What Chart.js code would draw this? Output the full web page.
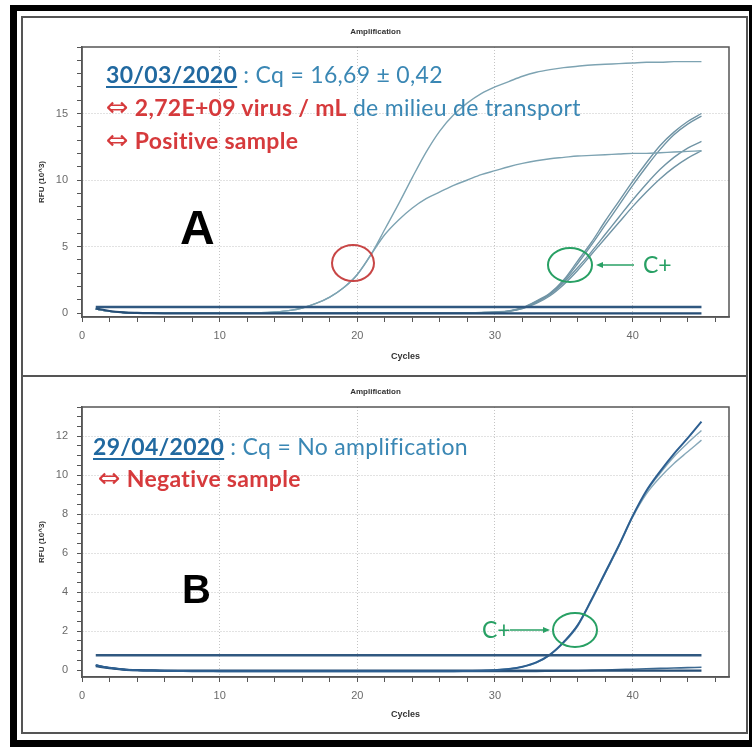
<!DOCTYPE html>
<html>
<head>
<meta charset="utf-8">
<script src="https://cdn.jsdelivr.net/npm/chart.js@4"></script>
<style>
  html, body { margin: 0; padding: 0; background: #fff; }
  body { width: 752px; height: 747px; position: relative; overflow: hidden; }
  .frame { position: absolute; left: 10px; top: 5px; width: 742px; height: 742px; box-sizing: border-box;
           border-style: solid; border-color: #000; border-width: 6px 3px 7px 7px; }
  .panel { position: absolute; left: 21px; width: 727px; box-sizing: border-box; border: 2px solid #555; }
  canvas { position: absolute; }
  .t { position: absolute; font-family: Lato, "Open Sans", sans-serif; font-size: 23px; line-height: 23px; white-space: nowrap; letter-spacing: 0.3px; }
  .date { color: rgb(33,105,160); font-weight: 700; text-decoration: underline; text-decoration-thickness: 2px; text-underline-offset: 3px; }
  .blue { color: rgb(58,135,180); }
  .red { color: rgb(214,58,60); font-weight: 700; }
  .sym { font-family: "DejaVu Sans", sans-serif; font-weight: 400; font-size: 27px; line-height: 0; }
  .big { position: absolute; font-family: "Liberation Sans", Arial, sans-serif; font-weight: 700; color: #000; line-height: 1; }
  .cplus { position: absolute; font-family: Lato, sans-serif; font-size: 23px; line-height: 23px; color: rgb(40,160,100); }
  svg { position: absolute; left: 0; top: 0; }
</style>
</head>
<body>
<div class="frame"></div>
<div class="panel" style="top:16px;height:361px"></div>
<div class="panel" style="top:375px;height:359px"></div>
<canvas id="chartA" width="724" height="357" style="left:22px;top:17px"></canvas>
<canvas id="chartB" width="724" height="355" style="left:22px;top:377px"></canvas>

<div class="t" style="left:106px;top:63px"><span class="date">30/03/2020</span><span class="blue"> : Cq = 16,69 ± 0,42</span></div>
<div class="t" style="left:106px;top:96px"><span class="red"><span class="sym">⇔</span> 2,72E+09 virus / mL</span><span class="blue"> de milieu de transport</span></div>
<div class="t" style="left:106px;top:129px"><span class="red"><span class="sym">⇔</span> Positive sample</span></div>
<div class="big" style="left:180px;top:204px;font-size:48px">A</div>
<div class="cplus" style="left:643px;top:253px">C+</div>

<div class="t" style="left:93px;top:435px"><span class="date">29/04/2020</span><span class="blue"> : Cq = No amplification</span></div>
<div class="t" style="left:98px;top:467px"><span class="red"><span class="sym">⇔</span> Negative sample</span></div>
<div class="big" style="left:182px;top:569px;font-size:40px">B</div>
<div class="cplus" style="left:482px;top:618px">C+</div>

<svg width="752" height="747">
  <ellipse cx="353" cy="263" rx="21" ry="18" fill="none" stroke="rgb(200,70,70)" stroke-width="2"/>
  <ellipse cx="570" cy="265" rx="22" ry="17" fill="none" stroke="rgb(40,160,100)" stroke-width="2"/>
  <line x1="600" y1="265" x2="634" y2="265" stroke="rgb(40,160,100)" stroke-width="1.5"/>
  <polygon points="596,265 603,262 603,268" fill="rgb(40,160,100)"/>
  <ellipse cx="575" cy="630" rx="22" ry="17" fill="none" stroke="rgb(40,160,100)" stroke-width="2"/>
  <line x1="510" y1="630" x2="545" y2="630" stroke="rgb(40,160,100)" stroke-width="1.5"/>
  <polygon points="550,630 543,627 543,633" fill="rgb(40,160,100)"/>
</svg>

<script>
const cycles = [1,2,3,4,5,6,7,8,9,10,11,12,13,14,15,16,17,18,19,20,21,22,23,24,25,26,27,28,29,30,31,32,33,34,35,36,37,38,39,40,41,42,43,44,45];

// panel A : positive sample (30/03/2020)
const thresholdA = 0.45;
const sampleA1 = [
  0.30, 0.12, 0.04, 0.01, 0.00, -0.01, -0.01, -0.02, -0.02,
  -0.02, -0.01, 0.00, 0.02, 0.08, 0.18, 0.38, 0.72, 1.20,
  1.90, 2.90, 4.40, 6.30, 8.20, 10.20, 12.10, 13.70, 14.90,
  15.80, 16.50, 17.00, 17.40, 17.80, 18.10, 18.30, 18.45, 18.55,
  18.65, 18.70, 18.75, 18.80, 18.85, 18.85, 18.90, 18.90, 18.90
];
const sampleA2 = [
  0.30, 0.12, 0.04, 0.01, 0.00, -0.01, -0.01, -0.02, -0.02,
  -0.02, -0.01, 0.00, 0.02, 0.08, 0.18, 0.38, 0.72, 1.20,
  1.90, 2.90, 4.40, 5.90, 7.00, 7.90, 8.60, 9.10, 9.60,
  10.00, 10.40, 10.70, 11.00, 11.25, 11.45, 11.60, 11.70, 11.80,
  11.85, 11.90, 11.95, 12.00, 12.00, 12.05, 12.10, 12.15, 12.20
];
const ctrlA1 = [
  0.30, 0.12, 0.04, 0.01, 0.00, 0.00, -0.01, -0.01, -0.02,
  -0.02, -0.02, -0.02, -0.02, -0.02, -0.02, -0.02, -0.02, -0.01,
  -0.01, -0.01, -0.01, 0.00, 0.00, 0.00, 0.00, 0.00, 0.01,
  0.02, 0.04, 0.08, 0.15, 0.40, 0.90, 1.50, 2.50, 3.90,
  5.30, 6.90, 8.40, 9.90, 11.30, 12.60, 13.60, 14.40, 15.00
];
const ctrlA2 = [
  0.30, 0.12, 0.04, 0.01, 0.00, 0.00, -0.01, -0.01, -0.02,
  -0.02, -0.02, -0.02, -0.02, -0.02, -0.02, -0.02, -0.02, -0.01,
  -0.01, -0.01, -0.01, 0.00, 0.00, 0.00, 0.00, 0.00, 0.01,
  0.02, 0.03, 0.07, 0.14, 0.38, 0.85, 1.45, 2.40, 3.70,
  5.10, 6.60, 8.10, 9.60, 11.00, 12.30, 13.40, 14.20, 14.80
];
const ctrlA3 = [
  0.30, 0.12, 0.04, 0.01, 0.00, 0.00, -0.01, -0.01, -0.02,
  -0.02, -0.02, -0.02, -0.02, -0.02, -0.02, -0.02, -0.02, -0.01,
  -0.01, -0.01, -0.01, 0.00, 0.00, 0.00, 0.00, 0.00, 0.01,
  0.01, 0.03, 0.06, 0.13, 0.36, 0.80, 1.40, 2.30, 3.40,
  4.60, 5.90, 7.20, 8.50, 9.70, 10.80, 11.70, 12.40, 12.90
];
const ctrlA4 = [
  0.30, 0.12, 0.04, 0.01, 0.00, 0.00, -0.01, -0.01, -0.02,
  -0.02, -0.02, -0.02, -0.02, -0.02, -0.02, -0.02, -0.02, -0.01,
  -0.01, -0.01, -0.01, 0.00, 0.00, 0.00, 0.00, 0.00, 0.01,
  0.01, 0.02, 0.05, 0.12, 0.33, 0.72, 1.30, 2.15, 3.20,
  4.40, 5.60, 6.80, 8.00, 9.10, 10.10, 10.95, 11.65, 12.20
];
const negA = [
  0.35, 0.15, 0.05, 0.01, -0.01, -0.02, -0.02, -0.02, -0.02,
  -0.02, -0.02, -0.02, -0.02, -0.02, -0.02, -0.02, -0.02, -0.02,
  -0.02, -0.02, -0.02, -0.02, -0.02, -0.02, -0.02, -0.02, -0.02,
  -0.02, -0.02, -0.02, -0.02, -0.02, -0.02, -0.02, -0.02, -0.02,
  -0.02, -0.02, -0.02, -0.02, -0.02, -0.02, -0.02, -0.02, -0.02
];

// panel B : negative sample (29/04/2020)
const thresholdB = 0.77;
const ctrlB1 = [
  0.25, 0.12, 0.04, 0.00, -0.02, -0.03, -0.04, -0.05, -0.05,
  -0.06, -0.06, -0.06, -0.06, -0.06, -0.06, -0.06, -0.06, -0.06,
  -0.05, -0.05, -0.05, -0.05, -0.05, -0.05, -0.05, -0.05, -0.05,
  -0.04, -0.03, 0.00, 0.06, 0.18, 0.40, 0.80, 1.45, 2.30,
  3.60, 5.00, 6.40, 7.90, 9.20, 10.20, 11.10, 11.90, 12.75
];
const ctrlB2 = [
  0.25, 0.12, 0.04, 0.00, -0.02, -0.03, -0.04, -0.05, -0.05,
  -0.06, -0.06, -0.06, -0.06, -0.06, -0.06, -0.06, -0.06, -0.06,
  -0.05, -0.05, -0.05, -0.05, -0.05, -0.05, -0.05, -0.05, -0.05,
  -0.04, -0.03, 0.00, 0.06, 0.18, 0.40, 0.80, 1.45, 2.30,
  3.60, 5.00, 6.40, 7.90, 9.15, 10.10, 10.95, 11.65, 12.30
];
const ctrlB3 = [
  0.25, 0.12, 0.04, 0.00, -0.02, -0.03, -0.04, -0.05, -0.05,
  -0.06, -0.06, -0.06, -0.06, -0.06, -0.06, -0.06, -0.06, -0.06,
  -0.05, -0.05, -0.05, -0.05, -0.05, -0.05, -0.05, -0.05, -0.05,
  -0.04, -0.03, 0.00, 0.06, 0.17, 0.38, 0.78, 1.40, 2.25,
  3.55, 4.95, 6.35, 7.85, 9.05, 9.90, 10.60, 11.20, 11.80
];
const sampleB = [
  0.25, 0.12, 0.04, 0.00, -0.02, -0.03, -0.04, -0.05, -0.05,
  -0.06, -0.06, -0.06, -0.06, -0.06, -0.06, -0.06, -0.06, -0.06,
  -0.06, -0.06, -0.06, -0.06, -0.06, -0.06, -0.06, -0.06, -0.06,
  -0.06, -0.06, -0.06, -0.06, -0.06, -0.06, -0.05, -0.04, -0.03,
  -0.01, 0.01, 0.03, 0.05, 0.07, 0.09, 0.11, 0.13, 0.15
];
const negB = [
  0.20, 0.10, 0.03, 0.00, -0.01, -0.02, -0.02, -0.02, -0.02,
  -0.02, -0.02, -0.02, -0.02, -0.02, -0.02, -0.02, -0.02, -0.02,
  -0.02, -0.02, -0.02, -0.02, -0.02, -0.02, -0.02, -0.02, -0.02,
  -0.02, -0.02, -0.02, -0.02, -0.02, -0.02, -0.02, -0.02, -0.02,
  -0.02, -0.02, -0.02, -0.02, -0.02, -0.02, -0.02, -0.02, -0.02
];

const xTicksA = [0, 10, 20, 30, 40];
const yTicksA = [0, 5, 10, 15];
const yTicksB = [0, 2, 4, 6, 8, 10, 12];

function pts(arr) {
  return cycles.map((c, i) => ({ x: c, y: arr[i] }));
}
function flat(v) {
  return [{ x: cycles[0], y: v }, { x: cycles[cycles.length - 1], y: v }];
}
function line(arr, color, width) {
  return { data: arr, borderColor: color, borderWidth: width, pointRadius: 0, cubicInterpolationMode: 'monotone', fill: false };
}

const plotFrame = {
  id: 'plotFrame',
  beforeDatasetsDraw(chart) {
    const { ctx, chartArea: a } = chart;
    ctx.save();
    ctx.strokeStyle = '#555';
    ctx.lineWidth = 1.5;
    ctx.strokeRect(a.left, a.top, a.right - a.left, a.bottom - a.top);
    ctx.restore();
  }
};

function options(yMin, yMax, yStep, yLabels, xHeight) {
  return {
    responsive: false,
    animation: false,
    layout: { padding: { left: 0, right: 17, top: 0, bottom: 0 } },
    plugins: {
      legend: { display: false },
      tooltip: { enabled: false },
      title: {
        display: true,
        text: 'Amplification',
        color: '#333',
        font: { family: 'Arial', size: 8, weight: 'bold' },
        padding: { top: 10, bottom: 10.4 }
      }
    },
    scales: {
      x: {
        type: 'linear',
        min: 0,
        max: 47,
        afterFit: (s) => { s.height = xHeight; },
        border: { color: '#555', width: 1.5, dash: [1, 2] },
        grid: {
          color: (c) => (xTicksA.includes(c.tick.value) && c.tick.value > 0 ? '#c4c4c4' : 'rgba(0,0,0,0)'),
          tickColor: '#555',
          tickLength: 5
        },
        ticks: {
          stepSize: 2,
          includeBounds: false,
          autoSkip: false,
          maxRotation: 0,
          padding: 7,
          color: '#6a6a6a',
          font: { family: 'Arial', size: 11 },
          callback: (v) => (xTicksA.includes(v) ? v : '')
        },
        title: {
          display: true,
          text: 'Cycles',
          color: '#333',
          font: { family: 'Arial', size: 9, weight: 'bold' },
          padding: { top: 0, bottom: 11.6 }
        }
      },
      y: {
        min: yMin,
        max: yMax,
        afterFit: (s) => { s.width = 60; },
        border: { color: '#555', width: 1.5, dash: [1, 2] },
        grid: {
          color: (c) => (yLabels.includes(c.tick.value) && c.tick.value > 0 ? '#c4c4c4' : 'rgba(0,0,0,0)'),
          tickColor: '#555',
          tickLength: 5
        },
        ticks: {
          stepSize: yStep,
          includeBounds: false,
          autoSkip: false,
          padding: 9,
          color: '#6a6a6a',
          font: { family: 'Arial', size: 11 },
          callback: (v) => (yLabels.includes(v) ? v : '')
        },
        title: {
          display: true,
          text: 'RFU (10^3)',
          color: '#333',
          font: { family: 'Arial', size: 8, weight: 'bold' },
          padding: { top: 15, bottom: 0 }
        }
      }
    }
  };
}

const lightA = 'rgb(125,163,178)';
const ctrlColorA = 'rgb(112,148,165)';
const dark = 'rgb(38,78,118)';

new Chart('chartA', {
  type: 'line',
  data: {
    datasets: [
      line(flat(thresholdA), 'rgb(48,88,128)', 2.5),
      line(pts(negA), dark, 2.2),
      line(pts(sampleA1), lightA, 1.4),
      line(pts(sampleA2), lightA, 1.4),
      line(pts(ctrlA1), ctrlColorA, 1.4),
      line(pts(ctrlA2), ctrlColorA, 1.4),
      line(pts(ctrlA3), ctrlColorA, 1.4),
      line(pts(ctrlA4), ctrlColorA, 1.4)
    ]
  },
  options: options(-0.3, 20, 1, yTicksA, 57),
  plugins: [plotFrame]
});

new Chart('chartB', {
  type: 'line',
  data: {
    datasets: [
      line(flat(thresholdB), 'rgb(48,88,128)', 2.5),
      line(pts(ctrlB1), 'rgb(45,95,145)', 2),
      line(pts(negB), dark, 2.2),
      line(pts(sampleB), 'rgb(60,105,145)', 1.6),
      line(pts(ctrlB2), 'rgb(135,168,185)', 1.4),
      line(pts(ctrlB3), 'rgb(135,168,185)', 1.4)
    ]
  },
  options: options(-0.35, 13.5, 0.5, yTicksB, 55),
  plugins: [plotFrame]
});
</script>
</body>
</html>
